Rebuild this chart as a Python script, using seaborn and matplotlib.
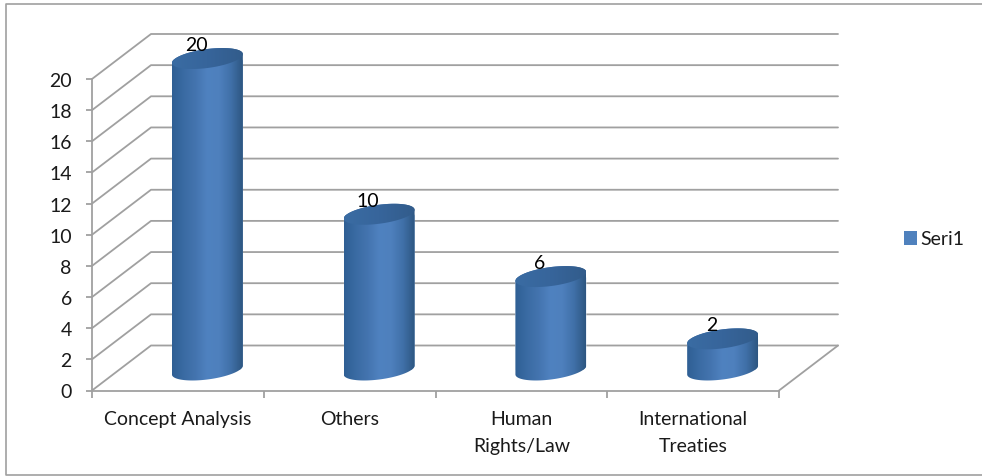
import numpy as np
import matplotlib
matplotlib.use("Agg")
import matplotlib.pyplot as plt
from matplotlib.colors import LinearSegmentedColormap
from matplotlib.lines import Line2D
from matplotlib.patches import Patch, Polygon
import seaborn as sns

categories = ["Concept Analysis", "Others", "Human\nRights/Law", "International\nTreaties"]
values = [20, 10, 6, 2]
y_ticks = list(range(0, 21, 2))
series_name = "Seri1"

W, H = 982, 477
sns.set_theme(style="white")
plt.rcParams["font.family"] = ["Lato", "DejaVu Sans"]

TEXT = "#1a1a1a"
GRID = "#a0a0a0"
BLUE = "#4f81bd"
LW = 1.3
FS = 14

# Front plane of the chart box, in pixels
LEFT, RIGHT, BOTTOM, TOP = 92, 779, 391.5, 80
DEPTH_X, DEPTH_Y = 59, 45

fig = plt.figure(figsize=(W / 100, H / 100), dpi=100, facecolor="white")

# Outer frame: open on the right-hand side
frame_x = [W / W, 5.5 / W, 5.5 / W, W / W]
frame_y = [1 - 4.5 / H, 1 - 4.5 / H, 1 - 476 / H, 1 - 476 / H]
fig.add_artist(Line2D(frame_x, frame_y, transform=fig.transFigure, color="#a0a0a0", lw=1.2))


def box(dx=0.0, dy=0.0):
    return [(LEFT + dx) / W, 1 - (BOTTOM - dy) / H, (RIGHT - LEFT) / W, (BOTTOM - TOP) / H]


ax = fig.add_axes(box())
ax.set_xlim(-0.5, len(categories) - 0.5)
ax.set_ylim(0, 20)
ax.patch.set_alpha(0)
sns.despine(ax=ax)
for side in ("left", "bottom"):
    ax.spines[side].set_color(GRID)
    ax.spines[side].set_linewidth(LW)

# Depth offsets expressed in data units of the front plane
px_x = len(categories) / (RIGHT - LEFT)
px_y = 20 / (BOTTOM - TOP)
dx, dy = DEPTH_X * px_x, DEPTH_Y * px_y
x0, x1 = ax.get_xlim()
for v in y_ticks:
    ax.plot([x0, x0 + dx, x1 + dx], [v, v + dy, v + dy], color=GRID, lw=LW, clip_on=False, zorder=1)
ax.plot([x1, x1 + dx], [0, dy], color=GRID, lw=LW, clip_on=False, zorder=1)

ax.set_yticks(y_ticks)
ax.set_xticks(np.arange(x0, x1 + 1))
ax.set_xticklabels([])
ax.set_xticks(range(len(categories)), labels=categories, minor=True)
ax.tick_params(axis="y", length=4.5, width=LW, color=GRID, labelsize=FS, labelcolor=TEXT, pad=10, left=True)
ax.tick_params(axis="x", which="major", length=5, width=LW, color=GRID, bottom=True)
ax.tick_params(axis="x", which="minor", length=0, labelsize=FS, labelcolor=TEXT, pad=14)
for lab in ax.get_xticklabels(minor=True):
    lab.set_linespacing(1.7)

# The cylinders stand halfway into the depth of the box
bar_ax = fig.add_axes(box(DEPTH_X / 2, DEPTH_Y / 2 - 2))
sns.barplot(x=list(range(len(values))), y=values, ax=bar_ax, color=BLUE, width=71 / 172, saturation=1)
bar_ax.set_xlim(x0, x1)
bar_ax.set_ylim(0, 20)
bar_ax.axis("off")

side_cmap = LinearSegmentedColormap.from_list(
    "cyl", ["#2f5f94", "#3a6ba3", "#4474af", "#4f82c0", "#4e80bd", "#4070a8", "#2d5681"])
cap_cmap = LinearSegmentedColormap.from_list("cap", ["#3a6ca3", "#37659b", "#325c8b"])
gradient = np.linspace(0, 1, 256)[None, :]

ELLIPSE_B = 9.5 * px_y        # minor radius of the cylinder ends
TILT = 0.125 * (px_y / px_x)  # rise of the ends towards the right

t_low = np.linspace(np.pi, 2 * np.pi, 80)
t_up = np.linspace(0, np.pi, 80)

for bar, v in zip(bar_ax.patches, values):
    cx = bar.get_x() + bar.get_width() / 2
    a = bar.get_width() / 2

    def rim(t, base):
        return np.column_stack([cx + a * np.cos(t),
                                base + ELLIPSE_B * np.sin(t) + TILT * a * np.cos(t)])

    outline = np.vstack([rim(t_low, 0), rim(t_up, v)])
    body = Polygon(outline, closed=True, transform=bar_ax.transData, facecolor="none", edgecolor="none")
    bar_ax.add_patch(body)
    body.set_clip_on(False)
    bar.set_clip_path(body)
    img = bar_ax.imshow(gradient, cmap=side_cmap, aspect="auto", zorder=3,
                        extent=(cx - a, cx + a, -3, v + 3), interpolation="bilinear")
    img.set_clip_path(body)
    img.set_clip_box(fig.bbox)

    cap_outline = rim(np.linspace(0, 2 * np.pi, 160), v)
    cap = Polygon(cap_outline, closed=True, transform=bar_ax.transData, facecolor="none", edgecolor="none")
    bar_ax.add_patch(cap)
    cap.set_clip_on(False)
    cap_img = bar_ax.imshow(gradient, cmap=cap_cmap, aspect="auto", zorder=4,
                            extent=(cx - a, cx + a, v - 3, v + 3), interpolation="bilinear")
    cap_img.set_clip_path(cap)
    cap_img.set_clip_box(fig.bbox)

    bar_ax.annotate(str(v), (cx, v), xytext=(-11, 14), textcoords="offset pixels",
                    ha="center", va="center", fontsize=FS, color="black", zorder=6,
                    annotation_clip=False)

bar_ax.set_xlim(x0, x1)
bar_ax.set_ylim(0, 20)

fig.legend(handles=[Patch(facecolor=BLUE, edgecolor="none", label=series_name)],
           loc="center left", bbox_to_anchor=(898 / W, 1 - 240 / H), frameon=False,
           fontsize=FS, labelcolor=TEXT, handlelength=0.7, handleheight=0.7, handletextpad=0.15,
           borderaxespad=0, borderpad=0.3)

fig.savefig("out.png", dpi=100, facecolor="white")
